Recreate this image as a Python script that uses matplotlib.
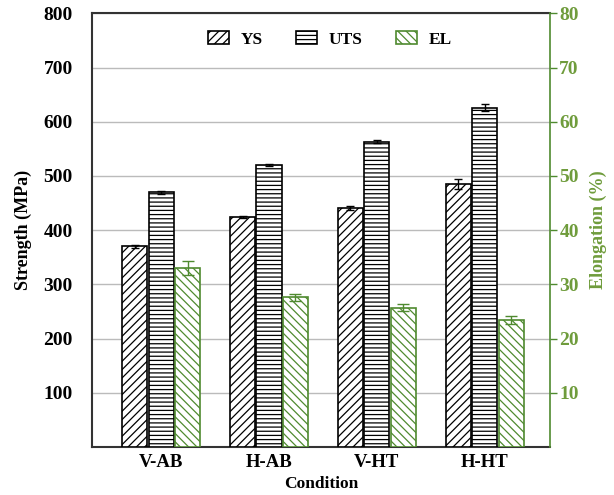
import numpy as np
import matplotlib.pyplot as plt

plt.rcParams['font.family'] = ['Liberation Serif', 'DejaVu Serif']
plt.rcParams['font.weight'] = 'bold'
plt.rcParams['axes.labelweight'] = 'bold'
plt.rcParams['hatch.linewidth'] = 0.9

conditions = ['V-AB', 'H-AB', 'V-HT', 'H-HT']
ys = [370, 425, 441, 485]
ys_err = [2, 2, 4, 9]
uts = [470, 521, 563, 626]
uts_err = [3, 2, 3, 7]
el = [33.0, 27.6, 25.7, 23.4]
el_err = [1.3, 0.6, 0.6, 0.8]

green = '#4f8a2f'
green_txt = '#6f9c3c'
x = np.arange(len(conditions))
w = 0.245

fig, ax = plt.subplots(figsize=(6.14, 4.95), dpi=100)
fig.subplots_adjust(left=0.15, right=0.895, top=0.973, bottom=0.097)
ax2 = ax.twinx()

ax.bar(x - w, ys, w * 0.95, yerr=ys_err, color='white', edgecolor='black',
       hatch='////', linewidth=1.2, capsize=3, error_kw=dict(lw=1, capthick=1),
       label='YS', zorder=3)
ax.bar(x, uts, w * 0.95, yerr=uts_err, color='white', edgecolor='black',
       hatch='----', linewidth=1.2, capsize=3, error_kw=dict(lw=1, capthick=1),
       label='UTS', zorder=3)
ax2.bar(x + w, el, w * 0.95, yerr=el_err, color='white', edgecolor=green,
        hatch='\\\\\\\\', linewidth=1.2, capsize=4,
        error_kw=dict(lw=1, capthick=1, ecolor=green), label='EL', zorder=3)

ax.set_ylim(0, 800)
ax2.set_ylim(0, 80)
ax.set_yticks(np.arange(100, 801, 100))
ax2.set_yticks(np.arange(10, 81, 10))
ax.set_xlim(-0.64, 3.6)
ax.set_xticks(x)
ax.set_xticklabels(conditions, fontsize=13.5)
ax.tick_params(axis='x', length=0, pad=5)
ax.tick_params(axis='y', length=0, labelsize=14, pad=14)
ax2.tick_params(axis='y', colors=green, labelsize=14, length=5, width=1, pad=2)
for lbl in ax2.get_yticklabels():
    lbl.set_color(green_txt)

ax.grid(axis='y', color='#bbbbbb', lw=1, zorder=0)
ax.set_axisbelow(True)

ax.set_xlabel('Condition', fontsize=12.5, labelpad=4)
ax.set_ylabel('Strength (MPa)', fontsize=13, labelpad=8)
ax2.set_ylabel('Elongation (%)', fontsize=13, color=green_txt, labelpad=8)

for s in ['top', 'left', 'bottom']:
    ax.spines[s].set_color('#333333')
    ax.spines[s].set_linewidth(1.5)
ax2.spines['top'].set_visible(False)
ax2.spines['left'].set_visible(False)
ax2.spines['bottom'].set_visible(False)
ax.spines['right'].set_visible(False)
ax2.spines['right'].set_color(green)
ax2.spines['right'].set_linewidth(1.2)

h1, l1 = ax.get_legend_handles_labels()
h2, l2 = ax2.get_legend_handles_labels()
ax2.legend(h1 + h2, l1 + l2, loc='upper center', ncol=3, frameon=False,
           fontsize=12.5, bbox_to_anchor=(0.52, 0.995), columnspacing=1.9,
           handlelength=1.2, handleheight=0.75, handletextpad=0.7)

plt.savefig('out.png', dpi=100)
